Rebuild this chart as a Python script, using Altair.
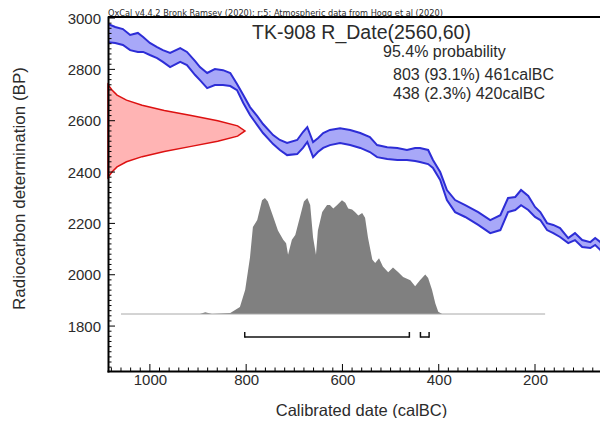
import altair as alt
import pandas as pd

# ---------------- data ----------------
# calibration curve band (IntCal20), calBC vs radiocarbon BP
curve_year = [1087, 1072, 1056, 1041, 1025, 1014, 1000, 985, 973, 958, 937, 923, 906, 896, 881, 865,
              848, 833, 819, 806, 792, 777, 765, 744, 730, 715, 694, 682, 673, 661, 651, 640, 626,
              605, 584, 563, 543, 528, 507, 486, 466, 449, 439, 422, 412, 397, 383, 366, 345, 318,
              293, 272, 256, 241, 229, 214, 200, 189, 175, 162, 148, 131, 117, 102, 85, 75, 64, 50]
curve_upper = [2977, 2965, 2957, 2934, 2942, 2926, 2903, 2887, 2875, 2864, 2883, 2868, 2832, 2809, 2786, 2801,
               2797, 2786, 2743, 2700, 2653, 2618, 2587, 2544, 2525, 2513, 2525, 2556, 2575, 2517, 2532, 2552,
               2564, 2571, 2564, 2552, 2536, 2505, 2497, 2494, 2486, 2494, 2494, 2486, 2447, 2400, 2330, 2291,
               2271, 2244, 2213, 2232, 2299, 2303, 2330, 2307, 2264, 2244, 2201, 2194, 2182, 2143, 2162, 2135,
               2127, 2143, 2127, 2069]
curve_lower = [2906, 2903, 2895, 2875, 2868, 2868, 2856, 2844, 2829, 2809, 2829, 2817, 2778, 2758, 2727, 2739,
               2739, 2735, 2719, 2669, 2622, 2583, 2552, 2509, 2486, 2466, 2470, 2494, 2517, 2458, 2478, 2494,
               2505, 2513, 2505, 2494, 2478, 2458, 2451, 2447, 2447, 2443, 2439, 2431, 2416, 2369, 2291, 2244,
               2225, 2194, 2162, 2174, 2244, 2252, 2271, 2252, 2225, 2213, 2174, 2162, 2147, 2123, 2135, 2108,
               2104, 2116, 2096, 2038]

# radiocarbon measurement R_Date(2560,60), relative density
red_bp = [2740, 2720, 2700, 2680, 2660, 2640, 2620, 2600, 2580, 2560,
          2540, 2520, 2500, 2480, 2460, 2440, 2420, 2400, 2380]
red_dens = [0.0, 0.029, 0.066, 0.135, 0.249, 0.411, 0.607, 0.801, 0.946, 1.0,
            0.946, 0.801, 0.607, 0.411, 0.249, 0.135, 0.066, 0.029, 0.0]

# calibrated probability distribution, relative density
gray_year = [1060, 896, 885, 871, 833, 813, 802, 792, 786, 777, 767, 761, 755, 744, 734, 723, 717, 713,
             705, 698, 688, 680, 673, 667, 661, 655, 651, 642, 632, 626, 619, 611, 601, 594, 588, 580,
             574, 567, 559, 553, 547, 538, 532, 524, 516, 505, 495, 484, 474, 459, 449, 439, 428, 422,
             414, 407, 401, 393, 179]
gray_dens = [0, 0, 0.015, 0, 0.009, 0.06, 0.21, 0.49, 0.75, 0.81, 0.98, 1.0, 0.97, 0.84, 0.72, 0.64, 0.61, 0.51,
             0.64, 0.68, 0.84, 0.97, 1.0, 0.94, 0.66, 0.51, 0.72, 0.88, 0.94, 0.94, 0.91, 0.94, 0.98, 0.96, 0.91, 0.90,
             0.88, 0.85, 0.87, 0.83, 0.66, 0.47, 0.44, 0.48, 0.41, 0.36, 0.40, 0.36, 0.32, 0.29, 0.24, 0.29, 0.34, 0.31,
             0.21, 0.09, 0.02, 0, 0]

# 95.4% ranges
range_from = [803, 438]
range_to = [461, 420]
range_pct = [93.1, 2.3]

header = "OxCal v4.4.2 Bronk Ramsey (2020); r:5; Atmospheric data from Hogg et al (2020)"
title = "TK-908 R_Date(2560,60)"
prob_title = "95.4% probability"
x_labels = [1000, 800, 600, 400, 200]
y_labels = [1800, 2000, 2200, 2400, 2600, 2800, 3000]
x_minor = [v for v in range(80, 1087, 20) if v not in x_labels]
y_minor = [v for v in range(1640, 3004, 20) if v not in y_labels]

# ---------------- chart ----------------
W, H = 492, 354
FONT = "Liberation Sans"
TXT = "#2b2b2b"

xs = alt.Scale(domain=[65, 1087], reverse=True, nice=False, zero=False)
ys = alt.Scale(domain=[1625, 3004], nice=False, zero=False)

curve_df = pd.DataFrame({"year": curve_year, "upper": curve_upper, "lower": curve_lower})
red_df = pd.DataFrame({"bp": red_bp, "dens": red_dens})
gray_df = pd.DataFrame({"year": gray_year, "dens": gray_dens})
base_df = pd.DataFrame({"year": [gray_year[0], gray_year[-1]], "dens": [0, 0]})
rng_df = pd.DataFrame({"start": range_from, "end": range_to})
ends_df = pd.DataFrame({"v": range_from + range_to})

x_axis = alt.Axis(values=x_labels, format="d", ticks=False, tickSize=0, grid=False,
                  domainColor="black", domainWidth=2, domainCap="square",
                  labelFontSize=15, labelColor=TXT, labelPadding=1, labelFlush=False,
                  title="Calibrated date (calBC)", titleFontSize=16.5, titleFontWeight="normal",
                  titleColor=TXT, titleX=253, titleY=44, titleBaseline="alphabetic", zindex=2)
y_axis = alt.Axis(values=y_labels, format="d", ticks=False, tickSize=0, grid=False,
                  domainColor="black", domainWidth=2, domainCap="square",
                  labelFontSize=15, labelColor=TXT, labelPadding=7.5,
                  title="Radiocarbon determination (BP)", titleFontSize=17, titleFontWeight="normal",
                  titleColor=TXT, titleX=-84, titleY=171, titleBaseline="alphabetic", titleAngle=270,
                  zindex=2)

band = alt.Chart(curve_df).mark_area(color="#a8a8f8", opacity=1, clip=True).encode(
    x=alt.X("year:Q", scale=xs, axis=x_axis),
    y=alt.Y("lower:Q", scale=ys, axis=y_axis),
    y2="upper:Q",
)
up_line = alt.Chart(curve_df).mark_line(color="#2d2dd6", strokeWidth=2, clip=True).encode(
    x=alt.X("year:Q", scale=xs), y=alt.Y("upper:Q", scale=ys))
lo_line = alt.Chart(curve_df).mark_line(color="#2d2dd6", strokeWidth=2, clip=True).encode(
    x=alt.X("year:Q", scale=xs), y=alt.Y("lower:Q", scale=ys))
main = alt.layer(band, up_line, lo_line)

red = alt.Chart(red_df).mark_area(orient="horizontal", fill="#ffb4b4", stroke="#dd1111",
                                  strokeWidth=1.5, opacity=1).encode(
    x=alt.X("dens:Q", scale=alt.Scale(domain=[0, 1], range=[0, 137]), axis=None),
    y=alt.Y("bp:Q", scale=ys, axis=None),
)

gys = alt.Scale(domain=[0, 1], range=[297, 181])
gray_area = alt.Chart(gray_df).mark_area(color="#808080", opacity=1).encode(
    x=alt.X("year:Q", scale=xs, axis=None),
    y=alt.Y("dens:Q", scale=gys, axis=None),
)
gray_base = alt.Chart(base_df).mark_line(color="#a8a8a8", strokeWidth=1).encode(
    x=alt.X("year:Q", scale=xs, axis=None),
    y=alt.Y("dens:Q", scale=gys, axis=None),
)
gray = alt.layer(gray_area, gray_base)

br_h = alt.Chart(rng_df).mark_rule(color="#111111", strokeWidth=1.5).encode(
    x=alt.X("start:Q", scale=xs, axis=None), x2="end:Q", y=alt.value(320))
br_v = alt.Chart(ends_df).mark_rule(color="#111111", strokeWidth=1.5).encode(
    x=alt.X("v:Q", scale=xs, axis=None), y=alt.value(315), y2=alt.value(320.7))
brackets = alt.layer(br_h, br_v)


def xticks(vals, length):
    return alt.Chart(pd.DataFrame({"v": vals})).mark_rule(color="black", strokeWidth=1).encode(
        x=alt.X("v:Q", scale=xs, axis=None), y=alt.value(H), y2=alt.value(H - length))


def yticks(vals, length):
    return alt.Chart(pd.DataFrame({"v": vals})).mark_rule(color="black", strokeWidth=1).encode(
        y=alt.Y("v:Q", scale=ys, axis=None), x=alt.value(0), x2=alt.value(length))


ticks = alt.layer(xticks(x_labels, 7), xticks(x_minor, 3.5))
yt = alt.layer(yticks(y_labels, 7), yticks(y_minor, 3.5))

top_line = alt.Chart(pd.DataFrame({"a": [0]})).mark_rule(color="black", strokeWidth=2).encode(
    x=alt.value(0), x2=alt.value(W), y=alt.value(0))


def label(text, x, y, size, font=FONT):
    return alt.Chart(pd.DataFrame({"t": [text]})).mark_text(
        align="left", baseline="alphabetic", fontSize=size, color=TXT, font=font).encode(
        x=alt.value(x), y=alt.value(y), text="t:N")


range_lines = [f"{a} ({p}%) {b}calBC" for a, b, p in zip(range_from, range_to, range_pct)]
texts = alt.layer(
    label(header, 0, -1.2, 8.2, "DejaVu Sans"),
    label(title, 144, 22, 19.5),
    label(prob_title, 275, 39.5, 16),
    label(range_lines[0], 285, 63, 16),
    label(range_lines[1], 285, 82, 16),
)

chart = alt.layer(main, red, gray, brackets, ticks, yt, top_line, texts).resolve_scale(
    x="independent", y="independent"
).properties(
    width=W, height=H,
    padding={"left": 100, "top": 9, "right": 0, "bottom": 47},
    autosize=alt.AutoSizeParams(type="none"),
    background="white",
).configure(font=FONT).configure_view(stroke=None)

chart.save("out.html", embed_options={"renderer": "svg", "actions": False})
